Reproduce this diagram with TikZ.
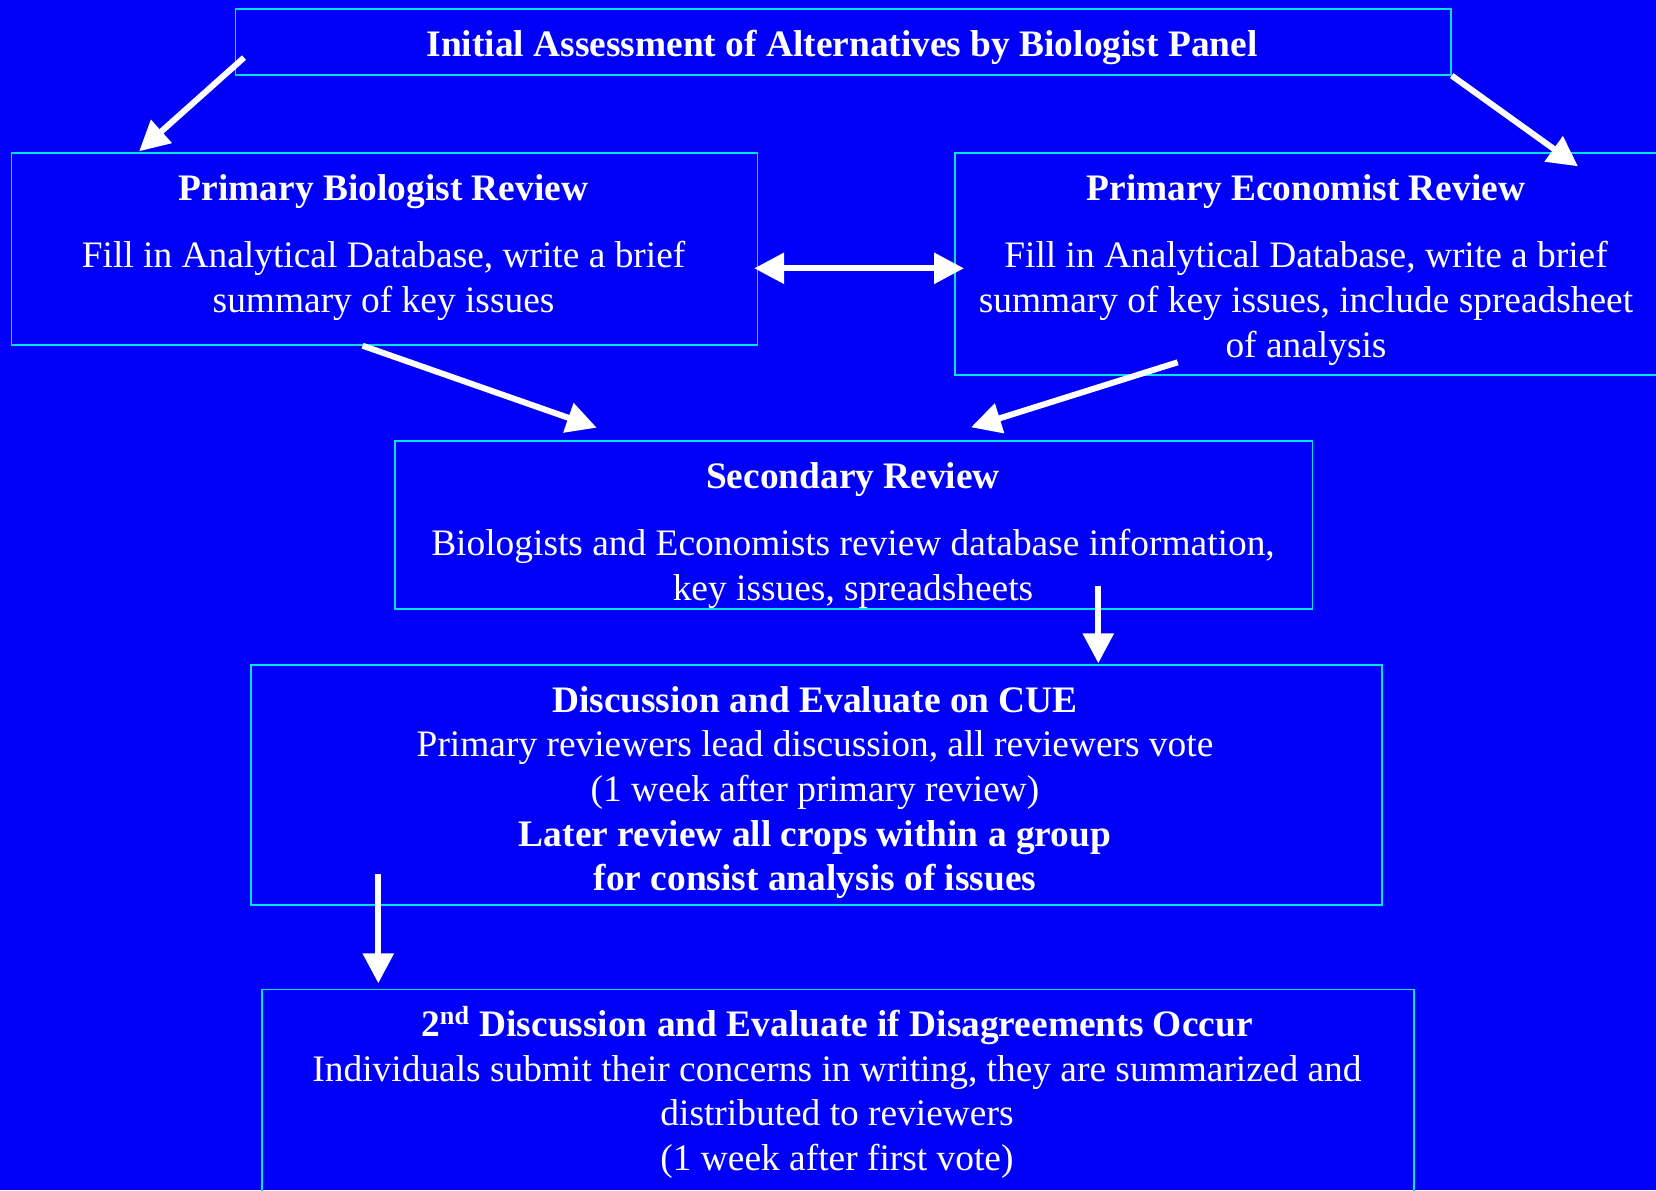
\documentclass[tikz,border=0pt]{standalone}
\usepackage{fontspec}
\setmainfont{Liberation Serif}
\usetikzlibrary{arrows.meta,calc}

\begin{document}
\begin{tikzpicture}[x=0.5pt,y=-0.5pt]
  \definecolor{kBlue}{RGB}{0,0,250}
  \definecolor{kCyan}{RGB}{0,225,255}
  \tikzset{
    frame/.style={draw=kCyan,line width=0.8pt,inner sep=0pt,anchor=north west},
    txt/.style={text=white,align=center,anchor=north,inner sep=0pt,
                font=\fontsize{18.7}{22.3}\selectfont},
    arr/.style={draw=white,line width=3pt,-{Triangle[length=15pt,width=15pt]}},
    dblarr/.style={draw=white,line width=3pt,
                   {Triangle[length=15pt,width=15pt]}-{Triangle[length=15pt,width=15pt]}}
  }

  \fill[kBlue] (0,0) rectangle (1656,1190);
  \useasboundingbox (0,0) rectangle (1656,1190);
  \clip (0,0) rectangle (1656,1190);

  % boxes
  \node[frame,minimum width=607.8pt,minimum height=32.8pt] (initbox) at (234.5,8.4) {};
  \node[frame,minimum width=373pt,minimum height=95.9pt]   (biobox)  at (10.6,152.3) {};
  \node[frame,minimum width=358pt,minimum height=111pt]    (econbox) at (954,152.3) {};
  \node[frame,minimum width=458.9pt,minimum height=84.1pt] (secbox)  at (394,440) {};
  \node[frame,minimum width=565.5pt,minimum height=119.9pt] (discbox) at (250.3,664.3) {};
  \node[frame,minimum width=576pt,minimum height=110pt]    (redobox) at (261,988.5) {};

  % texts
  \node[txt] (inittxt) at (842,30) {\textbf{Initial Assessment of Alternatives by Biologist Panel}};
  \node[txt] (biotxt) at (383.6,174) {\textbf{Primary Biologist Review}\\[11.5pt]
    Fill in Analytical Database, write a brief\\summary of key issues};
  \node[txt] (econtxt) at (1306,174) {\textbf{Primary Economist Review}\\[11.5pt]
    Fill in Analytical Database, write a brief\\
    summary of key issues, include spreadsheet\\of analysis};
  \node[txt] (sectxt) at (853,462) {\textbf{Secondary Review}\\[11.5pt]
    Biologists and Economists review database information,\\
    key issues, spreadsheets};
  \node[txt] (disctxt) at (815,686) {\textbf{Discussion and Evaluate on CUE}\\
    Primary reviewers lead discussion, all reviewers vote\\
    (1 week after primary review)\\
    \textbf{Later review all crops within a group}\\
    \textbf{for consist analysis of issues}};
  \node[txt] (redotxt) at (837,1010) {\textbf{2\smash{\textsuperscript{nd}} Discussion and Evaluate if Disagreements Occur}\\
    Individuals submit their concerns in writing, they are summarized and\\
    distributed to reviewers\\
    (1 week after first vote)};

  % arrows
  \draw[arr] ($(initbox.south west)+(9.5,-18)$) -- ($(biobox.north west)+(128.5,-1)$);
  \draw[arr] (initbox.south east) -- ($(econbox.north west)+(624,14)$);
  \draw[dblarr] ($(biobox.north east)+(-4,116)$) -- ($(econbox.north west)+(10,116)$);
  \draw[arr] ($(biobox.south west)+(352,0)$) -- ($(secbox.north west)+(202.7,-12.3)$);
  \draw[arr] ($(econbox.south west)+(223.7,-13.6)$) -- ($(secbox.north west)+(577,-12.7)$);
  \draw[arr] ($(secbox.south west)+(704.3,-24.3)$) -- ($(discbox.north west)+(848,-1)$);
  \draw[arr] ($(discbox.south west)+(128,-31.7)$) -- ($(redobox.north west)+(117.3,-5.2)$);
\end{tikzpicture}
\end{document}
